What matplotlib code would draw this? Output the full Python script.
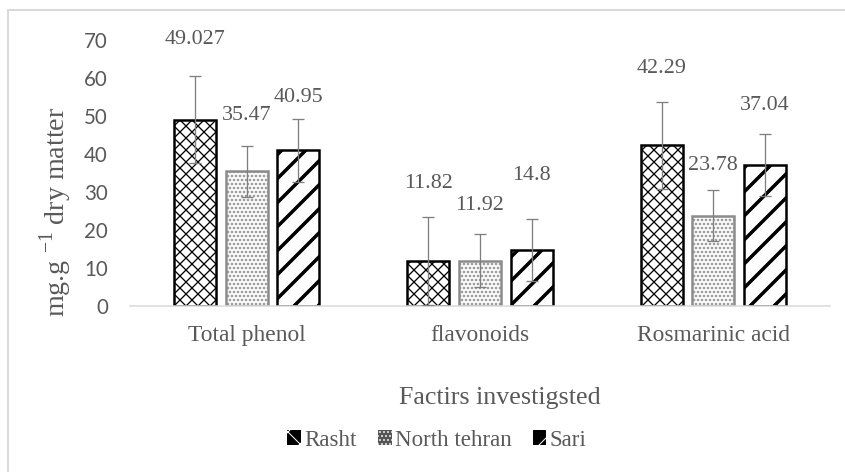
import numpy as np
import matplotlib
matplotlib.use("Agg")
import matplotlib.pyplot as plt
from matplotlib.patches import Patch, Rectangle

# datos
categorias = ["Total phenol", "flavonoids", "Rosmarinic acid"]
series = ["Rasht", "North tehran", "Sari"]
valores = [
    [49.027, 11.82, 42.29],
    [35.47, 11.92, 23.78],
    [40.95, 14.8, 37.04],
]
etiquetas = [
    ["49.027", "11.82", "42.29"],
    ["35.47", "11.92", "23.78"],
    ["40.95", "14.8", "37.04"],
]
errores = [
    [11.5, 11.6, 11.4],
    [6.7, 7.0, 6.8],
    [8.3, 8.1, 8.2],
]
# altura (en unidades del eje) donde quedaron las etiquetas
altura_etiquetas = [
    [70.0, 32.3, 62.6],
    [50.1, 26.5, 37.0],
    [54.8, 34.4, 52.7],
]
yticks = [0, 10, 20, 30, 40, 50, 60, 70]

# estilos de cada serie
tramas = ["xx", "...", "/"]
grosor_trama = [1.3, 1.8, 3.5]
bordes = ["black", "#8c8c8c", "black"]
gris = "#595959"
serif = "Liberation Serif"

W, H = 845, 472
fig = plt.figure(figsize=(W / 72, H / 72), dpi=72)
fig.patches.append(Rectangle((8 / W, -0.1), 1.2, 1.1 - 10 / H, transform=fig.transFigure,
                             fill=False, edgecolor="#d9d9d9", linewidth=2))

ax = fig.add_axes([130 / W, (H - 306) / H, 700 / W, (306 - 40) / H])

x = np.arange(len(categorias))
ancho = 0.18
paso = 0.221
for i in range(len(series)):
    pos = x + (i - 1) * paso
    with plt.rc_context({"hatch.linewidth": grosor_trama[i]}):
        barras = ax.bar(pos, valores[i], ancho, color="white", edgecolor=bordes[i],
                        linewidth=2.5, hatch=tramas[i], zorder=2)
    for b in barras:
        if hasattr(b, "set_hatch_linewidth"):
            b.set_hatch_linewidth(grosor_trama[i])
    ax.errorbar(pos, valores[i], yerr=errores[i], fmt="none", ecolor="#7f7f7f",
                elinewidth=1.3, capsize=6, capthick=1.3, zorder=3)
    for j in range(len(categorias)):
        ax.text(pos[j], altura_etiquetas[i][j], etiquetas[i][j], ha="center", va="center",
                fontsize=22, family=serif, color=gris, clip_on=False)

ax.set_xlim(-0.5, 2.5)
ax.set_ylim(0, 70)
ax.set_yticks(yticks)
ax.set_yticklabels([str(v) for v in yticks], fontsize=20.5, family="Lato", color=gris)
ax.set_xticks(x)
ax.set_xticklabels(categorias, fontsize=23.5, family=serif, color=gris)
ax.tick_params(axis="both", length=0)
ax.tick_params(axis="y", pad=22)
ax.tick_params(axis="x", pad=19)
for s in ["top", "right", "left"]:
    ax.spines[s].set_visible(False)
ax.spines["bottom"].set_color("#d9d9d9")
ax.spines["bottom"].set_linewidth(1.5)

plt.rcParams["mathtext.fontset"] = "custom"
plt.rcParams["mathtext.rm"] = serif
fig.text(56 / W, 1 - 212 / H, r"mg.g $^{\mathrm{-1}}$ dry matter", rotation=90, ha="center",
         va="center", fontsize=28, family=serif, color=gris)
fig.text(500 / W, 1 - 398 / H, "Factirs investigsted", ha="center", va="center",
         fontsize=26, family=serif, color=gris)

proxies = [
    Patch(facecolor="black", edgecolor="white", linewidth=0, hatch="x"),
    Patch(facecolor="#555555", edgecolor="white", linewidth=0, hatch="..."),
    Patch(facecolor="black", edgecolor="white", linewidth=0, hatch="/"),
]
fig.legend(proxies, series, loc="center", bbox_to_anchor=(437 / W, 1 - 440 / H),
           ncol=3, frameon=False, prop={"family": serif, "size": 23},
           labelcolor=gris, handlelength=0.6, handleheight=0.6, handletextpad=0.15,
           columnspacing=0.9)

fig.savefig("out.png", dpi=72)
